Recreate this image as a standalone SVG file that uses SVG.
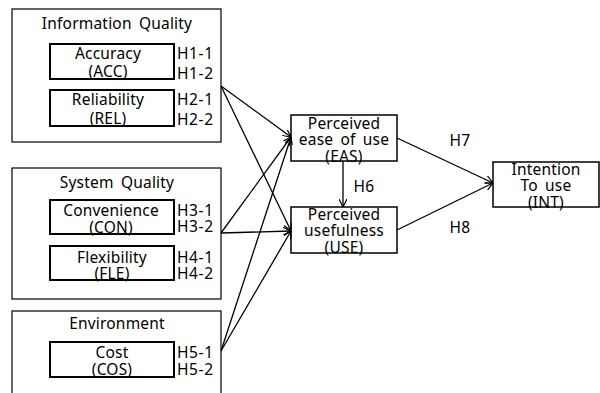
<svg xmlns="http://www.w3.org/2000/svg" width="600" height="393" viewBox="0 0 600 393">
<defs>
<marker id="ah" viewBox="0 0 10 10" refX="10" refY="5" markerWidth="8" markerHeight="8" markerUnits="userSpaceOnUse" orient="auto">
<path d="M0,0 L10,5 L0,10" fill="none" stroke="#000" stroke-width="1.5"/>
</marker>
<style>
.outer,.inner,.node{fill:#fff;stroke:#000}
.outer{stroke-width:1.2}
.inner{stroke-width:2}
.node{stroke-width:1.5}
text{font-family:"Noto Sans","Open Sans",sans-serif;font-size:15.5px;word-spacing:3px;letter-spacing:0.2px;fill:#000;text-anchor:middle;dominant-baseline:central}
.h{text-anchor:start;letter-spacing:0.6px}
.c line{stroke:#000;stroke-width:1.3;marker-end:url(#ah)}
</style>
</defs>
<rect width="600" height="393" fill="#fff"/>
<g id="info-quality">
<rect class="outer" x="12" y="9" width="209" height="133"/>
<text x="117" y="23">Information Quality</text>
</g>
<g id="acc">
<rect class="inner" x="50" y="44" width="124" height="35"/>
<text x="108" y="53">Accuracy</text>
<text x="108" y="71">(ACC)</text>
<text class="h" x="177" y="53">H1-1</text>
<text class="h" x="177" y="73">H1-2</text>
</g>
<g id="rel">
<rect class="inner" x="50" y="90" width="124" height="36"/>
<text x="108" y="99">Reliability</text>
<text x="108" y="118">(REL)</text>
<text class="h" x="177" y="99">H2-1</text>
<text class="h" x="177" y="119">H2-2</text>
</g>
<g id="sys-quality">
<rect class="outer" x="12" y="168" width="209" height="131"/>
<text x="117" y="182">System Quality</text>
</g>
<g id="con">
<rect class="inner" x="50" y="200" width="124" height="34"/>
<text x="111" y="210">Convenience</text>
<text x="111" y="227">(CON)</text>
<text class="h" x="177" y="210">H3-1</text>
<text class="h" x="177" y="226">H3-2</text>
</g>
<g id="fle">
<rect class="inner" x="50" y="246" width="124" height="34"/>
<text x="112" y="257">Flexibility</text>
<text x="112" y="273">(FLE)</text>
<text class="h" x="177" y="257">H4-1</text>
<text class="h" x="177" y="273">H4-2</text>
</g>
<g id="environment">
<rect class="outer" x="12" y="311" width="209" height="100"/>
<text x="117" y="323">Environment</text>
</g>
<g id="cos">
<rect class="inner" x="50" y="342" width="124" height="35"/>
<text x="112" y="352">Cost</text>
<text x="112" y="369">(COS)</text>
<text class="h" x="177" y="352">H5-1</text>
<text class="h" x="177" y="369">H5-2</text>
</g>
<g id="eas">
<rect class="node" x="291" y="115" width="106" height="46"/>
<text x="344" y="123">Perceived</text>
<text x="344" y="139">ease of use</text>
<text x="344" y="156">(EAS)</text>
</g>
<g id="use">
<rect class="node" x="291" y="207" width="106" height="46"/>
<text x="344" y="214">Perceived</text>
<text x="344" y="230">usefulness</text>
<text x="344" y="247">(USE)</text>
</g>
<g id="int">
<rect class="node" x="493" y="162" width="106" height="45"/>
<text x="546" y="169">Intention</text>
<text x="546" y="185">To use</text>
<text x="546" y="202">(INT)</text>
</g>
<g class="c" id="connectors">
<line x1="221" y1="86" x2="291" y2="137"/>
<line x1="221" y1="86" x2="291" y2="231"/>
<line x1="221" y1="233" x2="291" y2="137"/>
<line x1="221" y1="233" x2="291" y2="231"/>
<line x1="221" y1="351" x2="291" y2="137"/>
<line x1="221" y1="351" x2="291" y2="231"/>
<line x1="343" y1="161" x2="343" y2="207"/>
<line x1="397" y1="138" x2="493" y2="183"/>
<line x1="397" y1="230" x2="493" y2="183"/>
</g>
<g id="labels">
<text x="364" y="186">H6</text>
<text x="460" y="140">H7</text>
<text x="460" y="227">H8</text>
</g>
</svg>
